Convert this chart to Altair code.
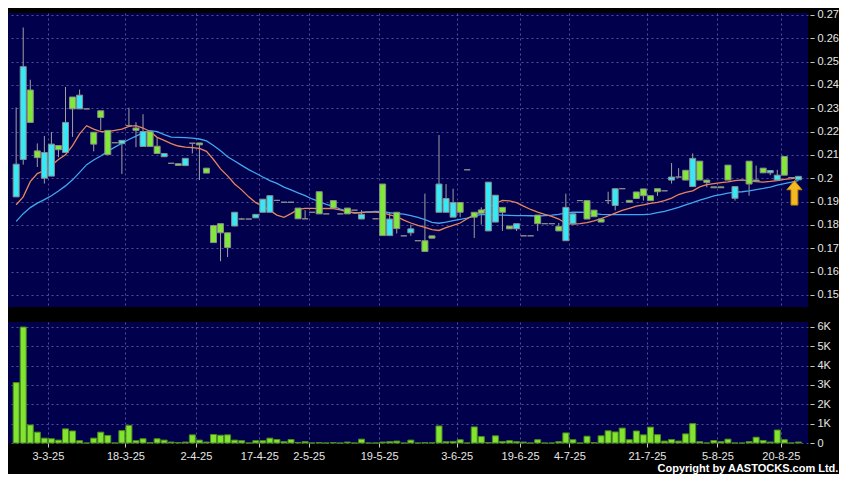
import altair as alt
import pandas as pd

# ---------------- data ----------------
opens = [0.2060,0.2478,0.2239,0.2088,0.2110,0.2146,0.2122,0.2239,0.2297,0.2356,
         0.2297,0.2146,0.2260,0.2101,0.2152,0.2162,0.2226,0.2205,0.2200,0.2136,
         0.2106,0.2106,0.2064,0.2055,0.2085,0.2150,0.2143,0.2022,0.1724,0.1766,
         0.1703,0.1854,0.1825,0.1825,0.1845,0.1910,0.1925,0.1905,0.1897,0.1897,
         0.1826,0.1826,0.1854,0.1847,0.1847,0.1872,0.1847,0.1847,0.1863,0.1845,
         0.1854,0.1826,0.1754,0.1825,0.1784,0.1753,0.1783,0.1732,0.1686,0.1743,
         0.1975,0.1913,0.1896,0.1854,0.2036,0.1833,0.1850,0.1983,0.1927,0.1854,
         0.1783,0.1805,0.1753,0.1753,0.1805,0.1805,0.1805,0.1774,0.1875,0.1847,
         0.1904,0.1825,0.1835,0.1812,0.1904,0.1955,0.1955,0.1897,0.1913,0.1925,
         0.1904,0.1942,0.1946,0.2005,0.2005,0.1992,0.2085,0.1992,0.1982,0.1959,
         0.1959,0.1992,0.1964,0.1990,0.1975,0.1987,0.2023,0.2033,0.2013,0.2013,
         0.2003,0.2008]
highs = [0.2303,0.2646,0.2422,0.2149,0.2181,0.2198,0.2140,0.2391,0.2348,0.2380,
         0.2297,0.2197,0.2289,0.2205,0.2152,0.2162,0.2302,0.2240,0.2274,0.2200,
         0.2175,0.2106,0.2064,0.2062,0.2085,0.2150,0.2151,0.2043,0.1800,0.1805,
         0.1766,0.1854,0.1830,0.1825,0.1845,0.1910,0.1925,0.1905,0.1897,0.1897,
         0.1872,0.1863,0.1854,0.1942,0.1847,0.1904,0.1847,0.1872,0.1863,0.1863,
         0.1854,0.1826,0.1975,0.1854,0.1854,0.1753,0.1801,0.1732,0.1934,0.1753,
         0.2185,0.1975,0.1955,0.1896,0.2036,0.1854,0.1875,0.1983,0.1927,0.1875,
         0.1795,0.1805,0.1753,0.1753,0.1842,0.1805,0.1805,0.1808,0.1934,0.1854,
         0.1904,0.1904,0.1863,0.1825,0.1942,0.1955,0.1955,0.1905,0.1941,0.1954,
         0.1925,0.1955,0.1946,0.2065,0.2043,0.2034,0.2106,0.2073,0.1992,0.1963,
         0.1963,0.2056,0.1964,0.1990,0.2073,0.2054,0.2043,0.2033,0.2036,0.2093,
         0.2003,0.2008]
lows = [0.1920,0.2058,0.2239,0.2048,0.1977,0.2009,0.2090,0.2110,0.2177,0.2297,
        0.2297,0.2115,0.2205,0.2101,0.2152,0.2018,0.2226,0.2133,0.2136,0.2136,
        0.2106,0.2092,0.2064,0.2055,0.2054,0.2106,0.1992,0.2022,0.1724,0.1644,
        0.1662,0.1795,0.1825,0.1825,0.1830,0.1854,0.1854,0.1905,0.1897,0.1897,
        0.1826,0.1826,0.1854,0.1847,0.1847,0.1872,0.1847,0.1847,0.1863,0.1825,
        0.1854,0.1826,0.1754,0.1754,0.1763,0.1753,0.1753,0.1732,0.1686,0.1743,
        0.1854,0.1854,0.1833,0.1833,0.2036,0.1744,0.1801,0.1774,0.1812,0.1774,
        0.1783,0.1774,0.1753,0.1753,0.1774,0.1805,0.1805,0.1774,0.1732,0.1805,
        0.1904,0.1825,0.1835,0.1812,0.1889,0.1862,0.1955,0.1897,0.1913,0.1904,
        0.1904,0.1924,0.1946,0.1977,0.2005,0.1992,0.1964,0.1992,0.1961,0.1959,
        0.1959,0.1992,0.1904,0.1990,0.1925,0.1987,0.2023,0.2013,0.1992,0.2013,
        0.2003,0.1993]
closes = [0.1920,0.2080,0.2378,0.2117,0.2000,0.2009,0.2140,0.2110,0.2348,0.2297,
          0.2297,0.2197,0.2289,0.2205,0.2152,0.2148,0.2226,0.2215,0.2136,0.2200,
          0.2137,0.2092,0.2064,0.2062,0.2054,0.2150,0.2151,0.2043,0.1797,0.1805,
          0.1766,0.1795,0.1825,0.1825,0.1830,0.1854,0.1854,0.1905,0.1897,0.1897,
          0.1872,0.1826,0.1854,0.1942,0.1847,0.1904,0.1847,0.1872,0.1863,0.1825,
          0.1854,0.1826,0.1975,0.1754,0.1854,0.1753,0.1766,0.1732,0.1732,0.1753,
          0.1854,0.1854,0.1833,0.1896,0.2036,0.1854,0.1864,0.1774,0.1812,0.1875,
          0.1795,0.1783,0.1753,0.1753,0.1842,0.1805,0.1805,0.1793,0.1732,0.1805,
          0.1904,0.1904,0.1863,0.1825,0.1904,0.1883,0.1955,0.1905,0.1941,0.1954,
          0.1925,0.1955,0.1946,0.1992,0.2005,0.2034,0.1964,0.2073,0.1992,0.1963,
          0.1963,0.2056,0.1914,0.1990,0.2073,0.1992,0.2043,0.2023,0.1992,0.2093,
          0.2003,0.1993]
volumes = [3.12,5.99,0.93,0.56,0.25,0.22,0.15,0.73,0.62,0.12,
           0.00,0.25,0.56,0.39,0.00,0.64,0.91,0.12,0.22,0.02,
           0.22,0.15,0.05,0.02,0.05,0.42,0.15,0.05,0.44,0.40,
           0.42,0.15,0.12,0.00,0.12,0.12,0.25,0.18,0.07,0.18,
           0.03,0.07,0.00,0.02,0.00,0.02,0.00,0.05,0.00,0.20,
           0.00,0.00,0.05,0.07,0.10,0.00,0.15,0.00,0.02,0.01,
           0.88,0.07,0.08,0.17,0.00,0.83,0.33,0.02,0.37,0.08,
           0.12,0.07,0.05,0.00,0.17,0.00,0.00,0.07,0.52,0.17,
           0.00,0.35,0.02,0.37,0.63,0.57,0.77,0.17,0.62,0.42,
           0.82,0.43,0.10,0.18,0.10,0.47,1.00,0.07,0.00,0.13,
           0.07,0.20,0.00,0.00,0.07,0.30,0.13,0.05,0.67,0.17,
           0.00,0.05]
ma_short = [0.1886,0.1920,0.1985,0.2020,0.2033,0.2055,0.2080,0.2100,0.2140,0.2190,
            0.2225,0.2210,0.2200,0.2200,0.2205,0.2210,0.2222,0.2225,0.2215,0.2200,
            0.2175,0.2162,0.2148,0.2138,0.2133,0.2131,0.2128,0.2115,0.2080,0.2040,
            0.2010,0.1975,0.1950,0.1920,0.1895,0.1880,0.1862,0.1842,0.1832,0.1848,
            0.1866,0.1871,0.1871,0.1870,0.1871,0.1870,0.1864,0.1856,0.1852,0.1853,
            0.1855,0.1855,0.1852,0.1843,0.1835,0.1820,0.1808,0.1798,0.1789,0.1780,
            0.1776,0.1788,0.1798,0.1808,0.1826,0.1844,0.1855,0.1875,0.1891,0.1905,
            0.1903,0.1895,0.1880,0.1866,0.1855,0.1845,0.1836,0.1825,0.1806,0.1803,
            0.1805,0.1810,0.1817,0.1827,0.1838,0.1850,0.1862,0.1871,0.1880,0.1886,
            0.1892,0.1896,0.1904,0.1915,0.1930,0.1939,0.1946,0.1963,0.1972,0.1977,
            0.1981,0.1984,0.1990,0.1993,0.1988,0.1985,0.1983,0.1986,0.1990,0.1995,
            0.1998,0.2003]
ma_long = [0.1815,0.1848,0.1874,0.1893,0.1908,0.1925,0.1945,0.1967,0.1993,0.2025,
           0.2058,0.2078,0.2095,0.2115,0.2133,0.2150,0.2166,0.2180,0.2195,0.2204,
           0.2200,0.2187,0.2176,0.2175,0.2174,0.2172,0.2168,0.2160,0.2140,0.2118,
           0.2092,0.2074,0.2055,0.2037,0.2021,0.2005,0.1990,0.1978,0.1962,0.1950,
           0.1937,0.1925,0.1911,0.1900,0.1888,0.1879,0.1868,0.1858,0.1850,0.1853,
           0.1856,0.1858,0.1857,0.1852,0.1848,0.1846,0.1840,0.1832,0.1822,0.1811,
           0.1807,0.1812,0.1818,0.1824,0.1829,0.1838,0.1845,0.1844,0.1843,0.1842,
           0.1841,0.1840,0.1840,0.1839,0.1838,0.1840,0.1842,0.1845,0.1851,0.1854,
           0.1855,0.1853,0.1848,0.1845,0.1844,0.1844,0.1844,0.1844,0.1844,0.1844,
           0.1846,0.1852,0.1858,0.1866,0.1875,0.1886,0.1895,0.1906,0.1915,0.1924,
           0.1930,0.1936,0.1940,0.1942,0.1946,0.1951,0.1956,0.1962,0.1970,0.1977,
           0.1983,0.1990]
tick_idx = [4, 15, 25, 34, 41, 51, 62, 71, 78, 89, 99, 108]
tick_labels = ["3-3-25", "18-3-25", "2-4-25", "17-4-25", "2-5-25", "19-5-25",
               "3-6-25", "19-6-25", "4-7-25", "21-7-25", "5-8-25", "20-8-25"]
price_ticks = [0.15, 0.16, 0.17, 0.18, 0.19, 0.20, 0.21, 0.22, 0.23, 0.24, 0.25, 0.26, 0.27]
vol_ticks = [0, 1, 2, 3, 4, 5, 6]

n = len(closes)
df = pd.DataFrame({
    "i": list(range(n)),
    "open": opens, "high": highs, "low": lows, "close": closes,
    "vol": volumes, "ma_s": ma_short, "ma_l": ma_long,
})
last = pd.DataFrame({"i": [n - 1], "p": [closes[-1]]})

# ---------------- styling ----------------
NAVY = "#00004c"
GREEN = "#80e838"
CYAN = "#38e8f4"
GRID = "#6a6ab4"
FONT = "Liberation Sans"
LBL = "#e6e6e6"

grid_vals = [t + 0.5 for t in tick_idx]
label_expr = "".join(
    f"datum.value == {v} ? '{l}' : " for v, l in zip(grid_vals, tick_labels)
) + "''"

xscale = alt.Scale(domain=[-0.45, n - 0.35], nice=False, zero=False)

W = 800
H_PRICE = 294
H_VOL = 121

# ---------------- price panel ----------------
x_axis_p = alt.Axis(values=grid_vals, tickCount=len(grid_vals) + 8, labels=False,
                    ticks=False, domain=False, grid=True)
yscale_p = alt.Scale(domain=[0.1448, 0.2708], nice=False, zero=False)
y_axis_p = alt.Axis(orient="right", values=price_ticks,
                    tickCount=len(price_ticks) + 4,
                    format=".2~f", grid=True, domain=False, tickSize=4,
                    labelPadding=3, offset=2, labelOverlap=False,
                    labelFlush=False)


def X():
    return alt.X("i:Q", scale=xscale, title=None, axis=x_axis_p)


def Y(field):
    return alt.Y(field, scale=yscale_p, title=None, axis=y_axis_p)


wicks = alt.Chart(df).mark_rule(color="#a0a0a0", strokeWidth=1).encode(
    x=X(), y=Y("low:Q"), y2="high:Q",
)

bodies = alt.Chart(df).transform_calculate(
    dir="datum.close > datum.open ? 'up' : (datum.close < datum.open ? 'down' : 'flat')"
).mark_bar(size=6, stroke="#8c8c8c", strokeWidth=1).encode(
    x=X(), y=Y("open:Q"), y2="close:Q",
    color=alt.Color("dir:N", legend=None,
                    scale=alt.Scale(domain=["up", "down", "flat"],
                                    range=[GREEN, CYAN, "#9a9a9a"])),
)

ma_s_line = alt.Chart(df).mark_line(color="#e8845c", strokeWidth=1.3).encode(
    x=X(), y=Y("ma_s:Q"))
ma_l_line = alt.Chart(df).mark_line(color="#42a6f0", strokeWidth=1.3).encode(
    x=X(), y=Y("ma_l:Q"))

arrow_path = "M0,-1 L0.62,-0.25 L0.28,-0.25 L0.28,1 L-0.28,1 L-0.28,-0.25 L-0.62,-0.25 Z"
arrow = alt.Chart(last).mark_point(
    shape=arrow_path, size=600, filled=True, fill="#f5b820",
    stroke="#b8860b", strokeWidth=1, opacity=1, xOffset=-4, yOffset=13,
).encode(x=X(), y=Y("p:Q"))

price = alt.layer(wicks, ma_l_line, ma_s_line, bodies, arrow).properties(
    width=W, height=H_PRICE)

# ---------------- volume panel ----------------
x_vol = alt.X("i:Q", scale=xscale, title=None,
              axis=alt.Axis(values=grid_vals, tickCount=len(grid_vals) + 8,
                            labelExpr=label_expr, grid=True,
                            domain=False, tickSize=4, labelPadding=3,
                            labelFlush=False, labelOverlap=False))
vol = alt.Chart(df).mark_bar(size=6, color="#80e430", stroke="#4c8c1c",
                             strokeWidth=1).encode(
    x=x_vol,
    y=alt.Y("vol:Q", title=None,
            scale=alt.Scale(domain=[0, 6.25], nice=False),
            axis=alt.Axis(orient="right", values=vol_ticks,
                          tickCount=len(vol_ticks) + 4, grid=True,
                          domain=False, tickSize=4, labelPadding=3, offset=2,
                          labelOverlap=False,
                          labelExpr="datum.value == 0 ? '0' : datum.value + 'K'")),
).properties(width=W, height=H_VOL)

chart = alt.vconcat(price, vol, spacing=13).properties(
    padding={"left": 0, "top": 0, "right": 0, "bottom": 0},
    background="#000000",
    title=alt.TitleParams(
        text="Copyright by AASTOCKS.com Ltd.", orient="bottom", anchor="end",
        frame="bounds", fontSize=11, fontWeight="bold", color="#ffffff",
        font=FONT, offset=2),
).configure_view(
    fill=NAVY, stroke=None,
).configure_axis(
    labelFont=FONT, labelFontSize=11, labelColor=LBL,
    tickColor="#c8c8c8", gridColor=GRID, gridDash=[2, 3], gridOpacity=0.75,
    gridWidth=1,
).configure_concat(spacing=13)

chart.save("out.html", embed_options={"renderer": "svg", "actions": False})
